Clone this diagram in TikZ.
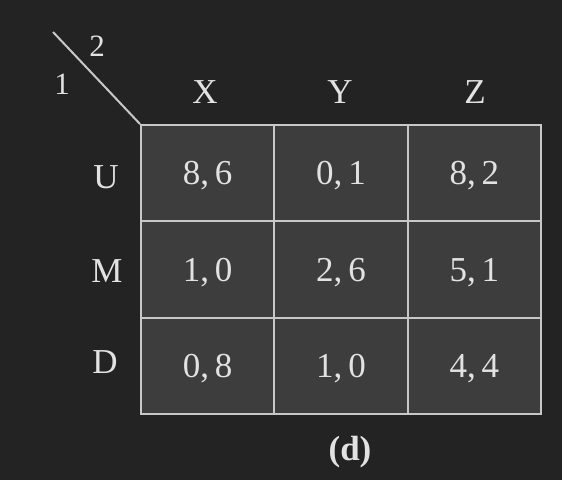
\documentclass[tikz,border=0pt]{standalone}
\usepackage{fontspec}
\setmainfont{Liberation Serif}
\definecolor{bg}{HTML}{232323}
\definecolor{cellfill}{HTML}{3D3D3D}
\definecolor{gridline}{HTML}{C8C8C8}
\definecolor{txt}{HTML}{E2E2E2}
\begin{document}
\begin{tikzpicture}[x=1pt,y=-1pt,
  cell/.style={draw=gridline, fill=cellfill, line width=2pt, minimum width=133.3pt, minimum height=96.3pt, inner sep=0pt, text depth=0pt, text=txt, font=\fontsize{35}{42}\selectfont},
  lbl/.style={text=txt, inner sep=0pt, font=\fontsize{35}{42}\selectfont},
  small/.style={text=txt, inner sep=0pt, font=\fontsize{31}{37}\selectfont}]
\fill[bg] (0,0) rectangle (562,480);
\useasboundingbox (0,0) rectangle (562,480);
% cells
\node[cell] (uX) at (207.7,173.2) {8,\,6};
\node[cell] (uY) at (341.0,173.2) {0,\,1};
\node[cell] (uZ) at (474.3,173.2) {8,\,2};
\node[cell] (mX) at (207.7,269.5) {1,\,0};
\node[cell] (mY) at (341.0,269.5) {2,\,6};
\node[cell] (mZ) at (474.3,269.5) {5,\,1};
\node[cell] (dX) at (207.7,365.8) {0,\,8};
\node[cell] (dY) at (341.0,365.8) {1,\,0};
\node[cell] (dZ) at (474.3,365.8) {4,\,4};
% headers
\node[lbl] (hX) at (205,92) {X};
\node[lbl] (hY) at (340,92) {Y};
\node[lbl] (hZ) at (475,92) {Z};
\node[lbl] (hU) at (106,177) {U};
\node[lbl] (hM) at (107,271) {M};
\node[lbl] (hD) at (105,362) {D};
% corner
\coordinate (diagtop) at (53,32);
\draw[gridline, line width=2pt] (diagtop) -- (uX.north west);
\node[small] (p2) at (97,46) {2};
\node[small] (p1) at (62,84) {1};
% caption
\node[lbl, font=\fontsize{35}{42}\selectfont\bfseries] (cap) at (350,452) {(d)};
\end{tikzpicture}
\end{document}
